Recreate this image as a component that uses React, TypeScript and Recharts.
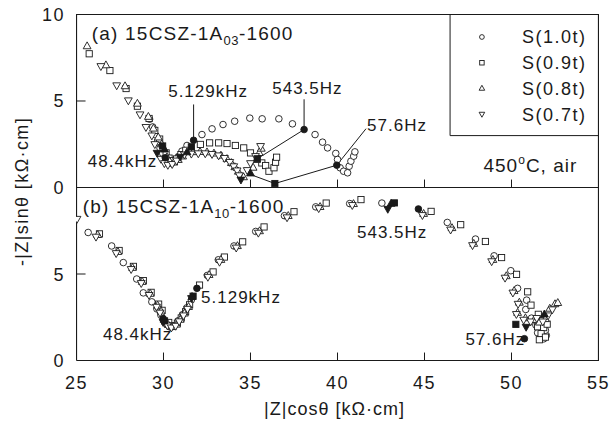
import React from 'react';
import { ScatterChart, Scatter, XAxis, YAxis, ReferenceLine } from 'recharts';

type P = [number, number];

// ---------- axes ----------
const xTicks = [25, 30, 35, 40, 45, 50, 55];
const panelYTicks = [0, 5, 10];
const innerXTicks = [30, 35, 40, 45, 50];
const PANEL_OFFSET = 10; // panel (a) sits on top of panel (b) on one stacked 0–20 axis

// ---------- series ----------
const seriesNames = ['S(1.0t)', 'S(0.9t)', 'S(0.8t)', 'S(0.7t)'];
const freqLabels = ['48.4kHz', '5.129kHz', '543.5Hz', '57.6Hz'];

// (a) upper panel: 15CSZ-1A03-1600
const upperS10: P[] = [[29.2,3.95],[29.38,3.5],[29.52,3.05],[29.66,2.65],[29.8,2.28],[29.95,1.98],[30.25,1.5],[30.45,1.4],[30.65,1.52],[30.85,1.78],[31.06,2.1],[31.35,2.43],[32.21,3.06],[32.79,3.39],[33.42,3.64],[34.09,3.83],[34.96,4.01],[35.67,3.97],[36.63,3.97],[37.41,3.68],[38.71,3.06],[39.14,2.62],[39.43,2.29],[39.9,1.97],[40.0,1.62],[40.15,1.14],[40.35,0.94],[40.58,0.85],[40.67,1.23],[40.77,1.52],[40.93,1.81],[41.0,2.06]];
const upperS09: P[] = [[25.73,7.73],[26.92,6.76],[27.85,5.72],[28.5,4.7],[29.17,3.99],[29.5,3.3],[29.78,2.8],[30.15,2.0],[30.32,1.7],[30.52,1.55],[30.75,1.65],[31.0,1.9],[31.28,2.15],[32.12,2.49],[32.65,2.58],[33.17,2.58],[33.65,2.54],[34.13,2.43],[34.61,2.29],[35.0,2.0],[35.65,1.42],[35.87,1.27],[36.06,0.94],[36.35,1.14],[36.44,1.46],[36.5,1.75]];
const upperS08: P[] = [[25.61,8.17],[26.69,7.07],[27.79,5.86],[28.5,4.85],[29.13,4.09],[29.42,3.41],[29.7,2.9],[29.9,2.5],[30.2,1.75],[30.36,1.5],[30.6,1.45],[30.85,1.6],[31.1,1.8],[31.7,2.05],[32.1,2.06],[32.5,2.04],[32.9,1.97],[33.3,1.85],[33.65,1.65],[33.9,1.42],[34.1,1.18],[34.3,0.92],[34.6,0.6],[35.15,1.15],[35.35,1.6],[35.5,2.0],[35.62,2.25]];
const upperS07: P[] = [[26.4,7.01],[27.31,5.9],[27.98,5.03],[28.65,4.22],[28.99,3.49],[29.33,3.0],[29.5,2.5],[29.85,1.65],[30.05,1.4],[30.25,1.3],[30.5,1.35],[30.75,1.55],[31.2,1.9],[31.6,1.95],[32.0,1.97],[32.4,1.97],[32.79,1.93],[33.17,1.85],[33.5,1.7],[33.81,1.47],[34.04,1.22],[34.23,0.98],[34.36,0.7],[34.81,1.0],[35.0,1.4],[35.29,1.81],[35.58,2.39]];

// filled points at the marked frequencies (48.4kHz, 5.129kHz, 543.5Hz, 57.6Hz)
const upperMarkedS10: P[] = [[30.1,1.72],[31.73,2.73],[38.08,3.35],[39.96,1.29]];
const upperMarkedS09: P[] = [[29.95,2.4],[31.6,2.35],[35.39,1.66],[36.4,0.23]];
const upperMarkedS08: P[] = [[30.06,2.2],[31.35,2.04],[35.0,0.82]];
const upperMarkedS07: P[] = [[29.63,2.0],[30.96,1.77],[34.45,0.45]];

// (b) lower panel: 15CSZ-1A10-1600
const lowerS10: P[] = [[25.67,7.4],[27.02,6.62],[27.69,5.66],[28.46,4.71],[28.84,3.91],[29.33,3.39],[29.62,2.98],[29.85,2.62],[30.2,2.08],[30.42,1.92],[30.62,2.02],[30.85,2.3],[31.1,2.65],[31.35,3.05],[31.6,3.5],[32.52,4.92],[33.15,5.82],[34.05,6.62],[35.3,7.46],[36.95,8.37],[38.75,8.88],[40.7,9.07],[42.55,9.1],[46.31,7.98],[47.93,7.02],[49.0,6.05],[49.96,5.19],[50.35,4.17],[50.87,3.49],[50.82,2.95],[51.15,2.45],[51.4,2.05],[51.5,1.6],[51.65,1.3],[51.85,1.25],[52.0,1.45],[51.95,1.75]];
const lowerS09: P[] = [[26.32,7.32],[27.45,6.36],[28.27,5.44],[28.84,4.62],[29.29,3.94],[29.72,3.26],[29.92,2.9],[30.3,2.2],[30.52,2.0],[30.8,2.16],[31.02,2.46],[31.27,2.82],[31.5,3.22],[32.07,4.36],[32.85,5.12],[33.5,5.98],[34.55,6.86],[35.78,7.72],[37.5,8.6],[39.35,9.1],[41.35,9.3],[45.38,8.62],[47.08,7.85],[48.5,6.88],[49.43,5.95],[50.29,4.98],[50.93,3.97],[51.12,3.2],[51.54,2.67],[51.75,2.3],[51.5,1.95],[51.85,1.9],[52.05,2.1],[51.7,1.55],[51.95,1.35],[51.6,1.2]];
const lowerS08: P[] = [[26.22,7.26],[27.38,6.28],[28.22,5.36],[28.78,4.55],[29.24,3.86],[29.66,3.18],[29.86,2.84],[30.28,2.06],[30.5,1.94],[30.75,2.08],[30.96,2.36],[31.2,2.72],[31.44,3.1],[32.62,4.95],[33.3,5.82],[34.25,6.62],[35.52,7.48],[37.17,8.36],[39.0,8.88],[40.92,9.05],[44.95,8.48],[46.58,7.66],[47.83,6.75],[48.93,5.82],[49.7,4.88],[50.15,4.02],[50.45,3.35],[50.35,2.76],[50.8,2.45],[51.3,2.35],[51.6,2.2],[51.95,2.4],[52.2,3.0],[52.5,3.26],[52.66,3.33]];
const lowerS07: P[] = [[25.03,8.18],[26.12,7.15],[27.28,6.2],[28.14,5.28],[28.72,4.47],[29.17,3.78],[29.6,3.1],[29.8,2.76],[30.22,2.02],[30.45,1.9],[30.7,2.0],[30.9,2.26],[31.15,2.6],[31.38,2.98],[32.55,4.83],[33.22,5.7],[34.18,6.52],[35.45,7.38],[37.1,8.27],[38.92,8.8],[40.85,8.98],[44.88,8.4],[46.5,7.56],[47.76,6.66],[48.86,5.73],[49.63,4.78],[50.08,3.92],[50.38,3.27],[50.28,2.68],[50.7,2.35],[51.1,2.25],[51.45,2.45],[51.8,2.25],[52.1,2.6],[52.35,2.95]];

const lowerMarkedS10: P[] = [[29.98,2.42],[31.92,4.17],[44.65,8.76],[50.74,1.26]];
const lowerMarkedS09: P[] = [[30.06,2.29],[31.7,3.72],[43.27,9.11],[50.25,2.09]];
const lowerMarkedS08: P[] = [[30.04,2.36],[31.64,3.68],[43.08,9.07],[51.89,2.67]];
const lowerMarkedS07: P[] = [[29.98,2.22],[31.61,3.6],[42.89,8.76],[50.84,1.94]];

// leader lines of the frequency labels in panel (a)
const upperLeader5129: P[] = [[31.73,4.8],[31.73,2.73]];
const upperLeader5435: P[] = [[38.08,5.1],[38.08,3.35],[35.39,1.66]];
const upperLeader576: P[] = [[41.64,3.4],[39.96,1.29],[36.4,0.23],[35.0,0.75]];

// label anchors (panel data coordinates, text start / baseline)
const upperLabelPos: P[] = [[25.65,1.21],[30.27,5.26],[36.25,5.38],[41.7,3.24]];
const lowerLabelPos: P[] = [[26.52,1.16],[32.16,3.31],[41.12,7.09],[47.35,0.87]];
const upperTitle = { x: 25.88, y: 8.55, main: '(a) 15CSZ-1A', sub: '03', tail: '-1600' };
const lowerTitle = { x: 25.36, y: 8.55, main: '(b) 15CSZ-1A', sub: '10', tail: '-1600' };
const conditionNote = { x: 48.39, y: 0.9, pre: '450', sup: 'o', post: 'C, air' };

// legend block inside panel (a) (panel data coordinates)
const legendBoxCorner: P = [46.47, 3.0];
const legendMarkerX = 48.3;
const legendTextX = 50.6;
const legendRowY = [8.7, 7.21, 5.73, 4.24];

// ---------- build tables ----------
const kinds = ['circle', 'square', 'up', 'down'];
const toPts = (a: P[], dy = 0) => a.map(([x, y]) => ({ x, y: y + dy }));
const upperSeries = [upperS10, upperS09, upperS08, upperS07];
const lowerSeries = [lowerS10, lowerS09, lowerS08, lowerS07];
const upperMarked = [upperMarkedS10, upperMarkedS09, upperMarkedS08, upperMarkedS07];
const lowerMarked = [lowerMarkedS10, lowerMarkedS09, lowerMarkedS08, lowerMarkedS07];
const stackedTicks = [...panelYTicks, ...panelYTicks.slice(1).map((v) => v + PANEL_OFFSET)];
const upperLabels = upperLabelPos.map(([x, y], i) => ({ x, y: y + PANEL_OFFSET, text: freqLabels[i] }));
const lowerLabels = lowerLabelPos.map(([x, y], i) => ({ x, y, text: freqLabels[i] }));
const titles = [
  { ...upperTitle, y: upperTitle.y + PANEL_OFFSET },
  lowerTitle,
];
const notes = [{ ...conditionNote, y: conditionNote.y + PANEL_OFFSET }];
const legendRows = seriesNames.map((name, i) => ({ x: legendMarkerX, y: legendRowY[i] + PANEL_OFFSET, name, kind: kinds[i], tx: legendTextX }));
const frame: P[] = [[25, 0], [55, 0], [55, 2 * PANEL_OFFSET], [25, 2 * PANEL_OFFSET], [25, 0]];
const legendFrame: P[] = [[legendBoxCorner[0], 2 * PANEL_OFFSET], [legendBoxCorner[0], legendBoxCorner[1] + PANEL_OFFSET], [55, legendBoxCorner[1] + PANEL_OFFSET]];
const segs = (a: P[], dy = 0) => a.slice(1).map((p, i) => [{ x: a[i][0], y: a[i][1] + dy }, { x: p[0], y: p[1] + dy }]);
const upperLeaders = [upperLeader5129, upperLeader5435, upperLeader576].flatMap((l) => segs(l, PANEL_OFFSET));
const bottomTickSegs = [0, PANEL_OFFSET].flatMap((b) => innerXTicks.map((v) => [{ x: v, y: b }, { x: v, y: b + 0.46 }]));
const leftTickSegs = [5, 5 + PANEL_OFFSET].map((v) => [{ x: 25, y: v }, { x: 25.52, y: v }]);

// a half-pixel of padding in the domains keeps the 1px frame crisp and inside the plot clip
const X_DOMAIN: [number, number] = [24.9713, 55.0287];
const Y_DOMAIN: [number, number] = [-0.0289, 20.0289];

const FONT = "'Liberation Sans', Arial, Helvetica, sans-serif";
const INK = '#1a1a1a';

function Mark({ cx, cy, kind, filled, s = 1 }: any) {
  if (cx == null || cy == null || isNaN(cx) || isNaN(cy)) return <g />;
  const c = { fill: filled ? INK : '#fff', stroke: INK, strokeWidth: 0.9 };
  if (kind === 'circle') return <circle cx={cx} cy={cy} r={3.3 * s} {...c} />;
  if (kind === 'square') return <rect x={cx - 3.1 * s} y={cy - 3.1 * s} width={6.2 * s} height={6.2 * s} {...c} />;
  if (kind === 'up')
    return <polygon points={`${cx},${cy - 4.3 * s} ${cx - 3.9 * s},${cy + 2.6 * s} ${cx + 3.9 * s},${cy + 2.6 * s}`} {...c} />;
  return <polygon points={`${cx},${cy + 4.3 * s} ${cx - 3.9 * s},${cy - 2.6 * s} ${cx + 3.9 * s},${cy - 2.6 * s}`} {...c} />;
}

function FreqText({ cx, cy, payload }: any) {
  return (
    <text x={cx} y={cy} fontFamily={FONT} fontSize={17} letterSpacing={1} fill={INK}>
      {payload.text}
    </text>
  );
}

function TitleText({ cx, cy, payload }: any) {
  return (
    <text x={cx} y={cy} fontFamily={FONT} fontSize={19} letterSpacing={1.2} fill={INK}>
      <tspan>{payload.main}</tspan>
      <tspan dy={5} fontSize={13} letterSpacing={0.5}>{payload.sub}</tspan>
      <tspan dy={-5}>{payload.tail}</tspan>
    </text>
  );
}

function NoteText({ cx, cy, payload }: any) {
  return (
    <text x={cx} y={cy} fontFamily={FONT} fontSize={19} letterSpacing={1} fill={INK}>
      <tspan>{payload.pre}</tspan>
      <tspan dy={-8} fontSize={12}>{payload.sup}</tspan>
      <tspan dy={8}>{payload.post}</tspan>
    </text>
  );
}

// legend row: marker at the point, name starting at the text column (same scale step)
function LegendRow({ cx, cy, payload }: any) {
  const pxPerUnit = 17.4;
  const tx = cx + (payload.tx - payload.x) * pxPerUnit;
  return (
    <g>
      <Mark cx={cx} cy={cy} kind={payload.kind} s={0.72} />
      <text x={tx} y={cy + 6.5} fontFamily={FONT} fontSize={18} letterSpacing={1.5} fill={INK}>{payload.name}</text>
    </g>
  );
}

function XTick({ x, y, payload }: any) {
  return (
    <text x={x} y={y + 28} textAnchor="middle" fontFamily={FONT} fontSize={18} letterSpacing={1.5} fill={INK}>
      {payload.value}
    </text>
  );
}

function YTick({ x, y, payload }: any) {
  const v = payload.value;
  const lab = v >= PANEL_OFFSET ? v - PANEL_OFFSET : v;
  return (
    <text x={x - 11} y={y + 6.5} textAnchor="end" fontFamily={FONT} fontSize={18} letterSpacing={1.5} fill={INK}>
      {lab}
    </text>
  );
}

function YTitle(props: any) {
  const vb = props.viewBox || { x: 0, y: 14, width: 76, height: 347 };
  const cx = vb.x + 22;
  const cy = vb.y + vb.height / 2 + 4;
  return (
    <text x={cx} y={cy} transform={`rotate(-90 ${cx} ${cy})`} textAnchor="middle" dominantBaseline="central"
      fontFamily={FONT} fontSize={18} letterSpacing={1.4} fill={INK}>
      -|Z|sinθ [kΩ·cm]
    </text>
  );
}

function XTitle(props: any) {
  const vb = props.viewBox || { x: 76, y: 361, width: 523, height: 78 };
  const cx = vb.x + vb.width / 2 - 3;
  const cy = vb.y + 48;
  return (
    <text x={cx} y={cy} textAnchor="middle" dominantBaseline="central" fontFamily={FONT} fontSize={18}
      letterSpacing={1} fill={INK}>
      |Z|cosθ [kΩ·cm]
    </text>
  );
}

const NoDot = () => <g />;

export default function App() {
  return (
    <div style={{ position: 'absolute', left: 0, top: 0, width: 612, height: 439, background: '#fff' }}>
      <ScatterChart width={612} height={439} margin={{ top: 14, right: 13, bottom: 0, left: 0 }}>
        <XAxis type="number" dataKey="x" domain={X_DOMAIN} ticks={xTicks} interval={0} allowDataOverflow
          height={78} tickSize={0} tickMargin={0} tickLine={false} axisLine={false}
          tick={(p: any) => <XTick {...p} />} label={<XTitle />} />
        <YAxis type="number" dataKey="y" domain={Y_DOMAIN} ticks={stackedTicks} interval={0}
          allowDataOverflow width={76} tickSize={0} tickMargin={0} tickLine={false} axisLine={false}
          tick={(p: any) => <YTick {...p} />} label={<YTitle />} />

        <Scatter data={toPts(frame)} isAnimationActive={false} line={{ stroke: INK, strokeWidth: 1.2 }} shape={NoDot} />
        <Scatter data={toPts(legendFrame)} isAnimationActive={false} line={{ stroke: INK, strokeWidth: 1 }} shape={NoDot} />
        <ReferenceLine y={PANEL_OFFSET} stroke={INK} strokeWidth={1} />
        {bottomTickSegs.map((sg, i) => (
          <ReferenceLine key={'t' + i} segment={sg} stroke={INK} strokeWidth={1} />
        ))}
        {leftTickSegs.map((sg, i) => (
          <ReferenceLine key={'y' + i} segment={sg} stroke={INK} strokeWidth={1} />
        ))}
        {upperLeaders.map((sg, i) => (
          <ReferenceLine key={'l' + i} segment={sg} stroke={INK} strokeWidth={1} />
        ))}

        {upperSeries.map((d, i) => (
          <Scatter key={'uo' + i} name={seriesNames[i]} data={toPts(d, PANEL_OFFSET)} isAnimationActive={false}
            shape={(p: any) => <Mark {...p} kind={kinds[i]} />} />
        ))}
        {lowerSeries.map((d, i) => (
          <Scatter key={'lo' + i} name={seriesNames[i]} data={toPts(d)} isAnimationActive={false}
            shape={(p: any) => <Mark {...p} kind={kinds[i]} />} />
        ))}
        {upperMarked.map((d, i) => (
          <Scatter key={'uf' + i} data={toPts(d, PANEL_OFFSET)} isAnimationActive={false}
            shape={(p: any) => <Mark {...p} kind={kinds[i]} filled />} />
        ))}
        {lowerMarked.map((d, i) => (
          <Scatter key={'lf' + i} data={toPts(d)} isAnimationActive={false}
            shape={(p: any) => <Mark {...p} kind={kinds[i]} filled />} />
        ))}

        <Scatter data={upperLabels} isAnimationActive={false} shape={(p: any) => <FreqText {...p} />} />
        <Scatter data={lowerLabels} isAnimationActive={false} shape={(p: any) => <FreqText {...p} />} />
        <Scatter data={titles} isAnimationActive={false} shape={(p: any) => <TitleText {...p} />} />
        <Scatter data={notes} isAnimationActive={false} shape={(p: any) => <NoteText {...p} />} />
        <Scatter data={legendRows} isAnimationActive={false} shape={(p: any) => <LegendRow {...p} />} />
      </ScatterChart>
    </div>
  );
}
